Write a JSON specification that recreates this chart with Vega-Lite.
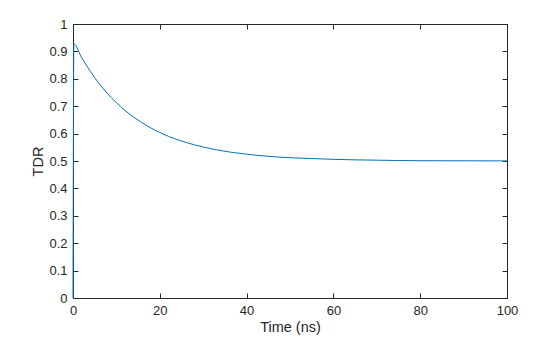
{
  "$schema": "https://vega.github.io/schema/vega-lite/v6.json",
  "width": 434,
  "height": 274,
  "autosize": {"type": "none"},
  "padding": {"left": 73, "top": 24, "right": 53, "bottom": 39},
  "background": "white",
  "config": {
    "view": {"stroke": "#262626", "strokeWidth": 1},
    "font": "Liberation Sans",
    "axis": {
      "domain": true,
      "domainColor": "#262626",
      "tickColor": "#262626",
      "tickSize": -5,
      "labelColor": "#262626",
      "labelFont": "Liberation Sans",
      "labelFontSize": 13,
      "labelFlush": false,
      "labelOverlap": false,
      "titleFont": "Liberation Sans",
      "titleFontSize": 14.5,
      "titleFontWeight": "normal",
      "titleColor": "#262626",
      "grid": false
    }
  },
  "data": {
    "values": [
      {"t": 0, "tdr": 0},
      {"t": 0.2, "tdr": 0.927},
      {"t": 2, "tdr": 0.877},
      {"t": 4, "tdr": 0.827},
      {"t": 6, "tdr": 0.783},
      {"t": 8, "tdr": 0.745},
      {"t": 10, "tdr": 0.713},
      {"t": 12, "tdr": 0.684},
      {"t": 14, "tdr": 0.66},
      {"t": 16, "tdr": 0.639},
      {"t": 18, "tdr": 0.62},
      {"t": 20, "tdr": 0.604},
      {"t": 22, "tdr": 0.59},
      {"t": 24, "tdr": 0.578},
      {"t": 26, "tdr": 0.568},
      {"t": 28, "tdr": 0.559},
      {"t": 30, "tdr": 0.551},
      {"t": 33, "tdr": 0.541},
      {"t": 36, "tdr": 0.533},
      {"t": 40, "tdr": 0.525},
      {"t": 45, "tdr": 0.517},
      {"t": 50, "tdr": 0.512},
      {"t": 55, "tdr": 0.509},
      {"t": 60, "tdr": 0.506},
      {"t": 70, "tdr": 0.503},
      {"t": 80, "tdr": 0.501},
      {"t": 90, "tdr": 0.5007},
      {"t": 100, "tdr": 0.5003}
    ]
  },
  "layer": [
    {
      "mark": {"type": "line", "color": "#0072BD", "strokeWidth": 1, "interpolate": "monotone"},
      "encoding": {
        "x": {"field": "t", "type": "quantitative", "scale": {"domain": [0, 100], "nice": false},
          "axis": {"title": "Time (ns)", "values": [0, 20, 40, 60, 80, 100], "labelPadding": 11, "titlePadding": 3}},
        "y": {"field": "tdr", "type": "quantitative", "scale": {"domain": [0, 1], "nice": false},
          "axis": {"title": "TDR", "values": [0, 0.1, 0.2, 0.3, 0.4, 0.5, 0.6, 0.7, 0.8, 0.9, 1], "format": ".1~f", "labelPadding": 11, "titlePadding": 3}}
      }
    },
    {
      "mark": {"type": "line", "opacity": 0},
      "encoding": {
        "x": {"field": "t", "type": "quantitative", "scale": {"domain": [0, 100], "nice": false},
          "axis": {"orient": "top", "title": null, "labels": false, "values": [0, 20, 40, 60, 80, 100]}},
        "y": {"field": "tdr", "type": "quantitative", "scale": {"domain": [0, 1], "nice": false},
          "axis": {"orient": "right", "title": null, "labels": false, "values": [0, 0.1, 0.2, 0.3, 0.4, 0.5, 0.6, 0.7, 0.8, 0.9, 1]}}
      }
    }
  ],
  "resolve": {"axis": {"x": "independent", "y": "independent"}}
}
